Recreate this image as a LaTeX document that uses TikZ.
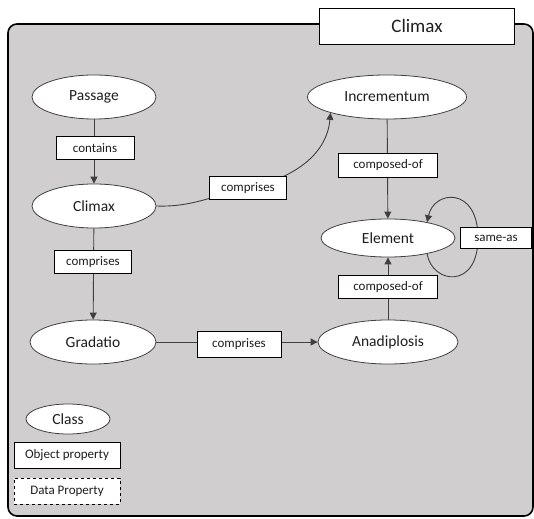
\documentclass[tikz,border=0pt]{standalone}
\usepackage{fontspec}
\setmainfont{Carlito}
\usetikzlibrary{shapes.geometric,arrows.meta}
\definecolor{panelgray}{RGB}{208,206,206}
\definecolor{linegray}{RGB}{64,64,64}
\definecolor{textdark}{RGB}{30,30,30}
\tikzset{
  cls/.style={ellipse, draw=linegray, line width=0.8pt, fill=white, inner sep=0pt,
    minimum height=44pt, font=\fontsize{15.5}{18}\selectfont, text=textdark},
  prop/.style={rectangle, draw=black, line width=0.8pt, fill=white, inner sep=0pt,
    minimum height=23pt, font=\fontsize{13}{15}\selectfont, text=textdark},
  edge/.style={draw=linegray, line width=0.9pt,
    -{Triangle[width=7pt,length=7pt]}},
  plain/.style={draw=linegray, line width=0.9pt}
}
\begin{document}
\begin{tikzpicture}[x=1pt,y=-1pt]
\useasboundingbox (0,0) rectangle (534,518);

% panel
\draw[fill=panelgray, line width=1.6pt, rounded corners=9pt] (8,24) rectangle (533,516);
\node[rectangle, draw=black, line width=0.8pt, fill=white, minimum width=195pt,
  minimum height=36pt, inner sep=0pt, font=\fontsize{19}{22}\selectfont, text=textdark]
  (title) at (417,26) {Climax};

% classes
\node[cls, minimum width=124pt] (Passage) at (94,97) {Passage};
\node[cls, minimum width=124pt] (Climax) at (94,206) {Climax};
\node[cls, minimum width=126pt] (Gradatio) at (93,342) {Gradatio};
\node[cls, minimum width=159pt] (Incrementum) at (387,97) {Incrementum};
\node[cls, minimum width=134pt, minimum height=38pt] (Element) at (388,238) {Element};
\node[cls, minimum width=140pt] (Anadiplosis) at (388,342) {Anadiplosis};

% connectors
\draw[edge] (Passage) -- (Climax);
\draw[edge] (Climax) -- (Gradatio);
\draw[edge] (Gradatio) -- (Anadiplosis);
\draw[edge] (Incrementum) -- (Element);
\draw[edge] (Anadiplosis) -- (Element);
\coordinate (midA) at (248,188);
\draw[edge] (Climax.east) to[out=-2,in=192] (midA) to[out=12,in=-95] (Incrementum.south west);
% self loop on Element
\coordinate (loopR) at (478,238);
\draw[edge] (Element.-22) .. controls (432,284) and (478,290) .. (loopR)
  .. controls (478,186) and (434,190) .. (Element.22);

% property labels
\node[prop, minimum width=78pt] (pContains) at (95,148) {contains};
\node[prop, minimum width=77pt] (pComp1) at (93,262) {comprises};
\node[prop, minimum width=77pt] (pComp2) at (248,188) {comprises};
\node[prop, minimum width=84pt, minimum height=26pt] (pComp3) at (239,344) {comprises};
\node[prop, minimum width=99pt, minimum height=24pt] (pComposed1) at (388,165) {composed-of};
\node[prop, minimum width=99pt] (pComposed2) at (388,287) {composed-of};
\node[prop, minimum width=71pt, minimum height=21pt] (pSame) at (496,238) {same-as};

% legend
\node[cls, minimum width=84pt, minimum height=30pt] (lClass) at (68,419) {Class};
\node[prop, minimum width=106pt, minimum height=26pt] (lObj) at (67,455) {Object property};
\node[prop, dashed, minimum width=106pt, minimum height=26pt] (lData) at (67,491) {Data Property};
\end{tikzpicture}
\end{document}
